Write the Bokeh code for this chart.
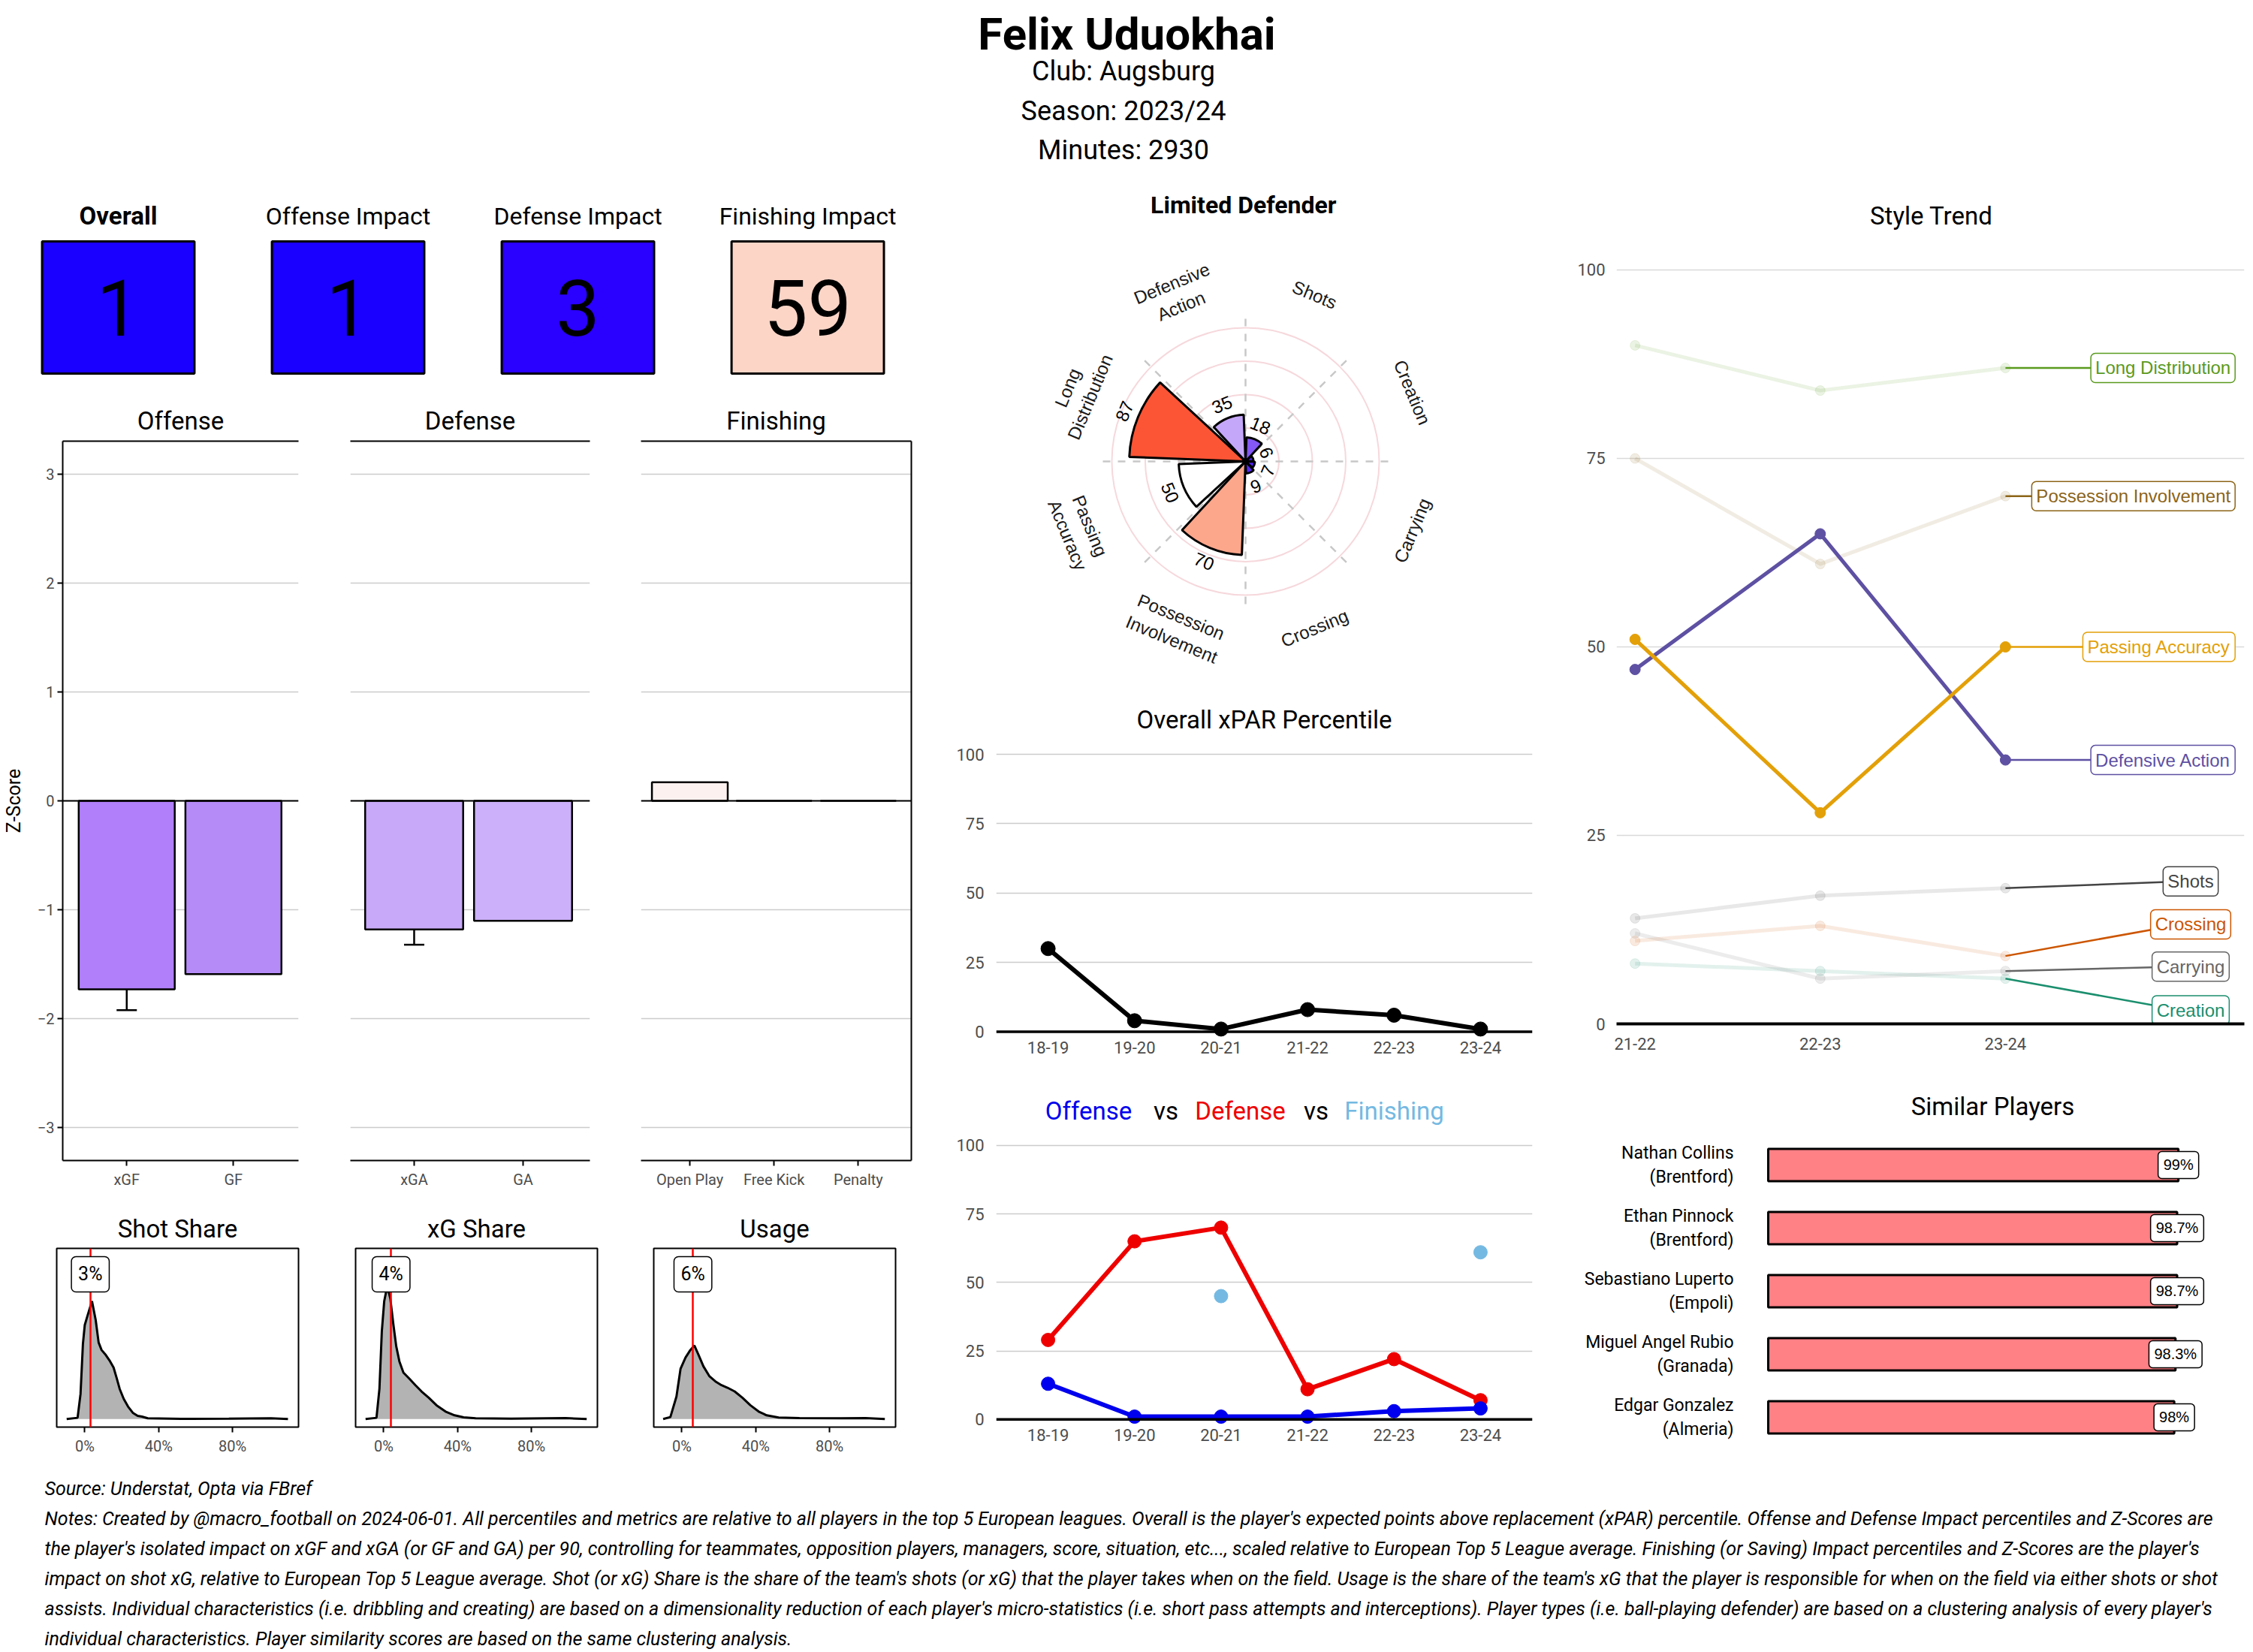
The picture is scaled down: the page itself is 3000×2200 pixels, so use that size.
import math
from bokeh.plotting import figure
from bokeh.layouts import column, row
from bokeh.models import (ColumnDataSource, Range1d, FixedTicker, Span, Grid,
                          Whisker, TeeHead, LinearAxis)
from bokeh.core.properties import value
from bokeh.embed import file_html
from bokeh.resources import INLINE

# ======================= DATA =======================
player_name = "Felix Uduokhai"
club_name = "Augsburg"
season_name = "2023/24"
minutes_played = 2930
player_type = "Limited Defender"

tile_names = ["Overall", "Offense Impact", "Defense Impact", "Finishing Impact"]
tile_values = [1, 1, 3, 59]
tile_colors = ["#1a00ff", "#1a00ff", "#2a00ff", "#fcd5c7"]

offense_cats = ["xGF", "GF"]
offense_z = [-1.73, -1.59]
offense_colors = ["#b07ff9", "#b58bf8"]
offense_err_cat = ["xGF"]
offense_err_low = [-1.92]
offense_err_high = [-1.54]

defense_cats = ["xGA", "GA"]
defense_z = [-1.18, -1.10]
defense_colors = ["#c8a9f9", "#ccb0f9"]
defense_err_cat = ["xGA"]
defense_err_low = [-1.32]
defense_err_high = [-1.05]

finishing_cats = ["Open Play", "Free Kick", "Penalty"]
finishing_z = [0.17, 0.0, 0.0]
finishing_colors = ["#fdf1ef", "#fdf1ef", "#fdf1ef"]

share_titles = ["Shot Share", "xG Share", "Usage"]
share_values = [3, 4, 6]
shot_share_x = [-9.8, -3.9, -2.3, -1.0, 0.0, 1.6, 3.9, 5.9, 7.5, 9.1, 11.4, 13.7, 15.6,
                17.2, 18.9, 21.1, 23.4, 26.0, 28.6, 30.9, 34.1, 52.0, 78.0, 100.8, 110.0]
shot_share_d = [0.000, 0.005, 0.100, 0.300, 0.375, 0.415, 0.470, 0.395, 0.305, 0.275, 0.255,
                0.230, 0.205, 0.165, 0.120, 0.080, 0.050, 0.025, 0.013, 0.010, 0.003, 0.001,
                0.002, 0.003, 0.000]
xg_share_x = [-9.8, -3.9, -2.3, -1.0, 0.3, 1.95, 3.6, 5.2, 6.8, 8.5, 10.7, 14.0, 17.2, 20.5,
              24.4, 28.6, 33.5, 38.4, 43.3, 49.8, 69.0, 98.5, 109.9]
xg_share_d = [0.000, 0.005, 0.120, 0.350, 0.470, 0.530, 0.480, 0.380, 0.290, 0.230, 0.185,
              0.160, 0.135, 0.110, 0.085, 0.055, 0.030, 0.015, 0.007, 0.003, 0.002, 0.004, 0.000]
usage_x = [-10.1, -6.2, -2.9, -0.7, 2.0, 4.6, 6.8, 9.1, 11.7, 15.0, 18.2, 21.5, 24.7, 28.6,
           32.8, 37.1, 41.6, 45.9, 52.4, 63.7, 86.5, 99.5, 109.9]
usage_d = [0.000, 0.008, 0.090, 0.200, 0.245, 0.275, 0.293, 0.255, 0.210, 0.170, 0.150, 0.135,
           0.125, 0.110, 0.085, 0.055, 0.030, 0.015, 0.006, 0.004, 0.003, 0.004, 0.000]

style_cats = ["Long Distribution", "Defensive Action", "Shots", "Creation", "Carrying",
              "Crossing", "Possession Involvement", "Passing Accuracy"]
style_axis_labels = ["Long\nDistribution", "Defensive\nAction", "Shots", "Creation", "Carrying",
                     "Crossing", "Possession\nInvolvement", "Passing\nAccuracy"]
polar_colors = ["#fc5535", "#c5a7f9", "#8358f4", "#4e20f1", "#5124f1", "#582cf1", "#fca68b", "#ffffff"]

trend_seasons = ["21-22", "22-23", "23-24"]
trend_long_distribution = [90, 84, 87]
trend_defensive_action = [47, 65, 35]
trend_shots = [14, 17, 18]
trend_creation = [8, 7, 6]
trend_carrying = [12, 6, 7]
trend_crossing = [11, 13, 9]
trend_possession_involvement = [75, 61, 70]
trend_passing_accuracy = [51, 28, 50]
trend_colors = ["#5a9a1e", "#5e50a2", "#444444", "#1b8f6e", "#666666", "#cc5500", "#8c6418", "#e3a008"]
trend_highlight = ["Defensive Action", "Passing Accuracy"]

xpar_seasons = ["18-19", "19-20", "20-21", "21-22", "22-23", "23-24"]
xpar_pct = [30, 4, 1, 8, 6, 1]
offense_pct = [13, 1, 1, 1, 3, 4]
defense_pct = [29, 65, 70, 11, 22, 7]
finishing_pct = [float("nan"), float("nan"), 45, float("nan"), float("nan"), 61]

similar_names = ["Nathan Collins", "Ethan Pinnock", "Sebastiano Luperto", "Miguel Angel Rubio", "Edgar Gonzalez"]
similar_clubs = ["Brentford", "Brentford", "Empoli", "Granada", "Almeria"]
similar_pct = [99, 98.7, 98.7, 98.3, 98]
similar_labels = ["99%", "98.7%", "98.7%", "98.3%", "98%"]

notes_source = "Source: Understat, Opta via FBref"
notes_lines = [
    "Notes: Created by @macro_football on 2024-06-01. All percentiles and metrics are relative to all players in the top 5 European leagues. Overall is the player's expected points above replacement (xPAR) percentile. Offense and Defense Impact percentiles and Z-Scores are",
    "the player's isolated impact on xGF and xGA (or GF and GA) per 90, controlling for teammates, opposition players, managers, score, situation, etc..., scaled relative to European Top 5 League average. Finishing (or Saving) Impact percentiles and Z-Scores are the player's",
    "impact on shot xG, relative to European Top 5 League average. Shot (or xG) Share is the share of the team's shots (or xG) that the player takes when on the field. Usage is the share of the team's xG that the player is responsible for when on the field via either shots or shot",
    "assists. Individual characteristics (i.e. dribbling and creating) are based on a dimensionality reduction of each player's micro-statistics (i.e. short pass attempts and interceptions). Player types (i.e. ball-playing defender) are based on a clustering analysis of every player's",
    "individual characteristics. Player similarity scores are based on the same clustering analysis.",
]

# ======================= STYLE HELPERS =======================
FONT = "Roboto"
SANS = "Liberation Sans"
TICK = "#4d4d4d"
GRID = "#cccccc"


def fig(w, h, xr, yr, xaxis=False, yaxis=False, borders=(0, 0, 0, 0)):
    p = figure(width=w, height=h, x_range=Range1d(*xr), y_range=Range1d(*yr),
               output_backend="svg", toolbar_location=None,
               x_axis_location="below" if xaxis else None,
               y_axis_location="left" if yaxis else None)
    p.min_border_left, p.min_border_right, p.min_border_top, p.min_border_bottom = borders
    p.outline_line_color = None
    p.background_fill_color = "white"
    p.border_fill_color = "white"
    p.xgrid.grid_line_color = None
    p.ygrid.grid_line_color = None
    return p


def style_ax(ax, size="20px", line=True, ticks=True, standoff=6):
    ax.major_label_text_font = FONT
    ax.major_label_text_font_size = size
    ax.major_label_text_color = TICK
    ax.major_label_standoff = standoff
    ax.minor_tick_line_color = None
    if line:
        ax.axis_line_color = "black"
        ax.axis_line_width = 2
    else:
        ax.axis_line_color = None
    if ticks:
        ax.major_tick_line_color = "black"
        ax.major_tick_line_width = 2
        ax.major_tick_out = 7
        ax.major_tick_in = 0
    else:
        ax.major_tick_line_color = None
        ax.major_tick_out = 0
        ax.major_tick_in = 0


def set_title(p, text, size="33px", standoff=10, bold=False):
    p.title.text = text
    p.title.text_font = FONT
    p.title.text_font_size = size
    p.title.text_font_style = "bold" if bold else "normal"
    p.title.align = "center"
    p.title.standoff = standoff
    p.title.text_color = "black"


def frame_line(p, place):
    ax = LinearAxis(ticker=FixedTicker(ticks=[]), axis_line_color="black", axis_line_width=2,
                    major_tick_out=0, major_tick_in=0, minor_tick_out=0, minor_tick_in=0,
                    major_label_standoff=0, major_label_text_font_size="0px")
    p.add_layout(ax, place)


def set_ygrid(p, ticks, color=GRID):
    p.ygrid.ticker = FixedTicker(ticks=ticks)
    p.ygrid.grid_line_color = color
    p.ygrid.grid_line_width = 1.5


# ======================= HEADER =======================
hdr = fig(3000, 240, (0, 3000), (0, 240))
hdr.text(x=[1500], y=[231], text=[player_name], text_font=value(FONT), text_font_style="bold",
         text_font_size="60px", text_align="center", text_baseline="top", text_color="black")
hdr.text(x=[1500, 1500, 1500], y=[146, 93, 41],
         text=[f"Club:  {club_name}", f"Season:  {season_name}", f"Minutes:  {minutes_played}"],
         text_font=value(FONT), text_font_size="36px", text_align="center",
         text_baseline="middle", text_color="black")

# ======================= TILES =======================
tiles = fig(1240, 290, (-0.513, 3.539), (10, 300))
tile_src = ColumnDataSource(dict(x=list(range(len(tile_values))),
                                 v=[str(v) for v in tile_values], c=tile_colors, n=tile_names))
tiles.rect(x="x", y=131, width=0.663, height=176, fill_color="c", line_color="black",
           line_width=3, source=tile_src)
tiles.text(x="x", y=131, text="v", text_font=value(FONT), text_font_size="104px",
           text_align="center", text_baseline="middle", text_color="black", source=tile_src)
tiles.text(x=[0], y=[253], text=[tile_names[0]], text_font=value(FONT), text_font_style="bold",
           text_font_size="33px", text_align="center", text_baseline="middle", text_color="black")
tiles.text(x=[1, 2, 3], y=[253] * 3, text=tile_names[1:], text_font=value(FONT),
           text_font_size="32px", text_align="center", text_baseline="middle", text_color="black")


# ======================= BAR PANELS =======================
def bar_panel(cats, vals, colors, title, w, borders, xr, show_y, right_line,
              err_cat=None, err_lo=None, err_hi=None):
    p = fig(w, 1070, xr, (-3.3, 3.3), xaxis=True, yaxis=show_y, borders=borders)
    ticks = [-3, -2, -1, 0, 1, 2, 3]
    if show_y:
        p.yaxis.ticker = FixedTicker(ticks=ticks)
        set_ygrid(p, ticks)
        style_ax(p.yaxis[0], size="20px", standoff=4)
        p.yaxis.axis_label = "Z-Score"
        p.yaxis.axis_label_text_font = FONT
        p.yaxis.axis_label_text_font_size = "25px"
        p.yaxis.axis_label_text_font_style = "normal"
        p.yaxis.axis_label_text_color = "black"
        p.yaxis.axis_label_standoff = 14
    else:
        p.add_layout(Grid(dimension=1, ticker=FixedTicker(ticks=ticks),
                          grid_line_color=GRID, grid_line_width=1.5))
    xs = list(range(len(cats)))
    p.xaxis.ticker = FixedTicker(ticks=xs)
    p.xaxis.major_label_overrides = {i: c for i, c in enumerate(cats)}
    style_ax(p.xaxis[0], size="20px")
    frame_line(p, "above")
    if right_line:
        frame_line(p, "right")
    p.vbar(x=xs, top=vals, bottom=0, width=0.9, fill_color=colors, line_color="black",
           line_width=2.5)
    p.add_layout(Span(location=0, dimension="width", line_color="black", line_width=2))
    if err_cat:
        wsrc = ColumnDataSource(dict(base=[cats.index(c) for c in err_cat], lower=err_lo, upper=err_hi))
        p.add_layout(Whisker(base="base", lower="lower", upper="upper", source=wsrc,
                             line_color="black", line_width=2.5,
                             upper_head=TeeHead(size=27, line_width=2.5),
                             lower_head=TeeHead(size=27, line_width=2.5)))
    set_title(p, title, size="33px", standoff=16)
    return p


off_p = bar_panel(offense_cats, offense_z, offense_colors, "Offense", 431, (76, 34, 57, 55),
                  (-0.6, 1.61), True, False, offense_err_cat, offense_err_low, offense_err_high)
def_p = bar_panel(defense_cats, defense_z, defense_colors, "Defense", 389, (35, 35, 57, 55),
                  (-0.586, 1.614), False, False, defense_err_cat, defense_err_low, defense_err_high)
fin_p = bar_panel(finishing_cats, finishing_z, finishing_colors, "Finishing", 420, (33, 27, 57, 55),
                  (-0.58, 2.63), False, True)


# ======================= SHARE DENSITIES =======================
def share_panel(title, xs, ds, val, w, borders):
    p = fig(w, 360, (-15.2, 115.7), (-0.032, 0.68), xaxis=True, yaxis=False, borders=borders)
    p.outline_line_color = "black"
    p.outline_line_width = 2
    p.xaxis.ticker = FixedTicker(ticks=[0, 40, 80])
    p.xaxis.major_label_overrides = {0: "0%", 40: "40%", 80: "80%"}
    style_ax(p.xaxis[0], size="20px", line=False)
    p.varea(x=xs, y1=[0] * len(xs), y2=ds, fill_color="#b3b3b3")
    p.line(xs, ds, line_color="black", line_width=3)
    p.vspan(x=[val], line_color="red", line_width=2.5)
    p.text(x=[val], y=[0.577], text=[f"{val}%"], text_font=value(FONT), text_font_size="25px",
           text_align="center", text_baseline="middle", text_color="black",
           background_fill_color="white", border_line_color="black", border_line_width=1.5,
           padding=9, border_radius=6)
    set_title(p, title, size="33px", standoff=13)
    return p


shot_p = share_panel(share_titles[0], shot_share_x, shot_share_d, share_values[0], 431, (75, 34, 62, 60))
xg_p = share_panel(share_titles[1], xg_share_x, xg_share_d, share_values[1], 389, (42, 25, 62, 60))
use_p = share_panel(share_titles[2], usage_x, usage_d, share_values[2], 420, (50, 48, 62, 60))

# ======================= POLAR (STYLE) =======================
trend_series = [trend_long_distribution, trend_defensive_action, trend_shots, trend_creation,
                trend_carrying, trend_crossing, trend_possession_involvement, trend_passing_accuracy]
polar_values = [s[-1] for s in trend_series]

MID_L, MID_R = 86, 20          # shared frame borders of the middle column
pol = fig(820, 680, (-186.5, 214.6), (-171.9, 210.1), borders=(MID_L, MID_R, 0, 0))
n_cat = len(style_cats)
step = 360.0 / n_cat
mids = [180 - step / 2 - step * i for i in range(n_cat)]
half = step * 0.9 / 2
pol.circle(x=0, y=0, radius=[25, 50, 75, 100], fill_color=None, line_color="#f6d8dc", line_width=2)
pol.ray(x=0, y=0, length=112, angle=[step * i for i in range(n_cat)], angle_units="deg",
        line_color="#c8c8c8", line_width=2.5, line_dash="10 10")
pol.wedge(x=0, y=0, radius=polar_values, start_angle=[m - half for m in mids],
          end_angle=[m + half for m in mids], start_angle_units="deg", end_angle_units="deg",
          fill_color=polar_colors, line_color="black", line_width=3)
rots = [(m - 90) if m > 0 else (m + 90) for m in mids]
lab_r = 135
pol.text(x=[lab_r * math.cos(math.radians(m)) for m in mids],
         y=[lab_r * math.sin(math.radians(m)) for m in mids],
         text=style_axis_labels, angle=rots, angle_units="deg", text_font=value(SANS),
         text_font_size="24px", text_align="center", text_baseline="middle", text_color="#1a1a1a")
val_r = [v + 11 for v in polar_values]
pol.text(x=[r * math.cos(math.radians(m)) for r, m in zip(val_r, mids)],
         y=[r * math.sin(math.radians(m)) for r, m in zip(val_r, mids)],
         text=[str(v) for v in polar_values], angle=rots, angle_units="deg", text_font=value(SANS),
         text_font_size="24px", text_align="center", text_baseline="middle", text_color="black")
pol.text(x=[-1.5], y=[192], text=[player_type], text_font=value(FONT), text_font_style="bold",
         text_font_size="32px", text_align="center", text_baseline="middle", text_color="black")


# ======================= SEASON LINE CHARTS =======================
def season_fig(h, borders, title=None, standoff=10):
    p = fig(820, h, (-0.6, 5.6), (-2, 103), xaxis=True, yaxis=True, borders=borders)
    set_ygrid(p, [25, 50, 75, 100])
    p.yaxis.ticker = FixedTicker(ticks=[0, 25, 50, 75, 100])
    style_ax(p.yaxis[0], size="22px", line=False, ticks=False, standoff=16)
    xs = list(range(len(xpar_seasons)))
    p.xaxis.ticker = FixedTicker(ticks=xs)
    p.xaxis.major_label_overrides = {i: s for i, s in enumerate(xpar_seasons)}
    style_ax(p.xaxis[0], size="22px", line=False, ticks=False, standoff=5)
    p.add_layout(Span(location=0, dimension="width", line_color="black", line_width=3.5))
    if title:
        set_title(p, title, size="33px", standoff=standoff)
    return p


xs6 = list(range(len(xpar_seasons)))
xp = season_fig(520, (MID_L, MID_R, 73, 59), "Overall xPAR Percentile", standoff=32)
xp.line(xs6, xpar_pct, line_color="black", line_width=6)
xp.scatter(xs6, xpar_pct, size=19, color="black")

ovd_title = fig(820, 70, (0, 820 - MID_L - MID_R), (0, 70), borders=(MID_L, MID_R, 0, 0))
ovd_words = ["Offense", "vs", "Defense", "vs", "Finishing"]
ovd_word_colors = ["#0000ee", "black", "#ee0000", "black", "#74b9e2"]
ovd_title.text(x=[123, 226, 325, 426, 530], y=[31] * 5, text=ovd_words, text_color=ovd_word_colors,
               text_font=value(FONT), text_font_size="33px", text_align="center",
               text_baseline="middle")

ovd = season_fig(450, (MID_L, MID_R, 4, 63))
ovd.line(xs6, defense_pct, line_color="#ee0000", line_width=6)
ovd.scatter(xs6, defense_pct, size=18, color="#ee0000")
ovd.line(xs6, offense_pct, line_color="#0000ee", line_width=6)
ovd.scatter(xs6, offense_pct, size=18, color="#0000ee")
ovd.scatter(xs6, finishing_pct, size=18, color="#74b9e2")

# ======================= STYLE TREND =======================
# frame reaches the top of the figure; the title sits above the 100 gridline
st = fig(940, 1190, (-0.1, 3.29), (0, 111.85), xaxis=True, yaxis=True, borders=(92, 12, 0, 67))
set_ygrid(st, [25, 50, 75, 100], color="#d9d9d9")
st.yaxis.ticker = FixedTicker(ticks=[0, 25, 50, 75, 100])
style_ax(st.yaxis[0], size="22px", line=False, ticks=False, standoff=15)
xs3 = list(range(len(trend_seasons)))
st.xaxis.ticker = FixedTicker(ticks=xs3)
st.xaxis.major_label_overrides = {i: s for i, s in enumerate(trend_seasons)}
style_ax(st.xaxis[0], size="22px", line=True, ticks=False, standoff=18)
st.xaxis.axis_line_width = 4
st.text(x=[1.6], y=[107.2], text=["Style Trend"], text_font=value(FONT), text_font_size="33px",
        text_align="center", text_baseline="middle", text_color="black")

for name, vals, col in zip(style_cats, trend_series, trend_colors):
    if name not in trend_highlight:
        st.line(xs3, vals, line_color=col, line_alpha=0.12, line_width=5)
        st.scatter(xs3, vals, size=13, color=col, alpha=0.12)
for name, vals, col in zip(style_cats, trend_series, trend_colors):
    if name in trend_highlight:
        st.line(xs3, vals, line_color=col, line_width=5)
        st.scatter(xs3, vals, size=14, color=col)

# repelled label placement
label_pos = {
    "Long Distribution": (3.24, 87, "right"),
    "Possession Involvement": (3.24, 70, "right"),
    "Passing Accuracy": (3.24, 50, "right"),
    "Defensive Action": (3.24, 35, "right"),
    "Shots": (3.0, 18.9, "center"),
    "Crossing": (3.0, 13.2, "center"),
    "Carrying": (3.0, 7.6, "center"),
    "Creation": (3.0, 1.8, "center"),
}
for name, vals, col in zip(style_cats, trend_series, trend_colors):
    lx, ly, al = label_pos[name]
    st.segment(x0=[xs3[-1]], y0=[vals[-1]], x1=[lx - 0.05], y1=[ly], line_color=col, line_width=2.5)
for name, vals, col in zip(style_cats, trend_series, trend_colors):
    lx, ly, al = label_pos[name]
    st.text(x=[lx], y=[ly], text=[name], text_color=col, text_font=value(SANS),
            text_font_size="24px", text_align=al, text_baseline="middle",
            background_fill_color="white", border_line_color=col, border_line_width=1.5,
            padding=6, border_radius=6)

# ======================= SIMILAR PLAYERS =======================
SIM_Y = (-0.631, 5.44)
ys = list(range(len(similar_names) - 1, -1, -1))
sim_names = fig(270, 530, (0, 270), SIM_Y, borders=(0, 0, 0, 20))
sim_names.text(x=[248] * len(ys), y=ys,
               text=[f"{n}\n({c})" for n, c in zip(similar_names, similar_clubs)],
               text_font=value(FONT), text_font_size="23px", text_align="right",
               text_baseline="middle", text_color="black")
sim = fig(670, 530, (-4.35, 114.2), SIM_Y, borders=(0, 16, 0, 20))
sim.hbar(y=ys, left=0, right=similar_pct, height=0.51, fill_color="#ff8085", line_color="black",
         line_width=3)
sim.text(x=similar_pct, y=ys, text=similar_labels, text_font=value(SANS), text_font_size="20px",
         text_align="center", text_baseline="middle", text_color="black",
         background_fill_color="white", border_line_color="black", border_line_width=1.5,
         padding=7, border_radius=5)
sim.text(x=[54.2], y=[4.93], text=["Similar Players"], text_font=value(FONT), text_font_size="33px",
         text_align="center", text_baseline="middle", text_color="black")

# ======================= NOTES =======================
notes = fig(3000, 240, (0, 3000), (0, 240))
notes.text(x=[59] * 6, y=[218, 178, 138, 98, 58, 18], text=[notes_source] + notes_lines,
           text_font=value(FONT), text_font_style="italic", text_font_size="25px",
           text_align="left", text_baseline="middle", text_color="black")

# ======================= LAYOUT =======================
left_col = column(tiles, row(off_p, def_p, fin_p), row(shot_p, xg_p, use_p))
mid_col = column(pol, xp, ovd_title, ovd)
right_col = column(st, row(sim_names, sim))
page = column(hdr, row(left_col, mid_col, right_col), notes)

open("out.html", "w").write(file_html(page, INLINE))
